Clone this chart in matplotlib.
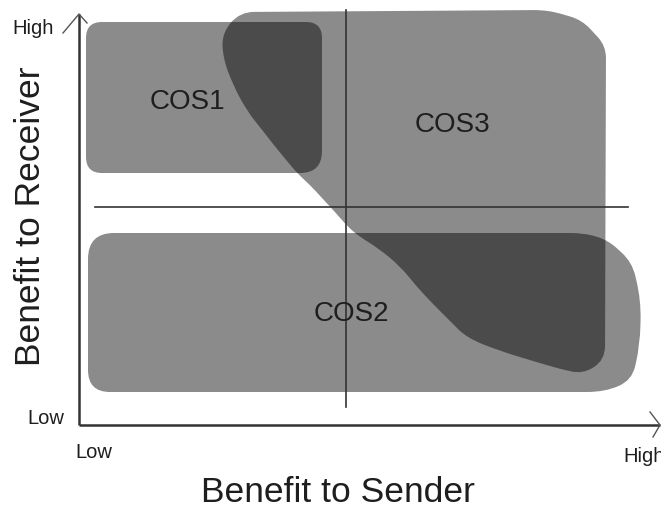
import numpy as np
import matplotlib
matplotlib.use('Agg')
import matplotlib.pyplot as plt
from matplotlib.path import Path
from matplotlib.patches import PathPatch

plt.rcParams['font.family'] = ['Liberation Sans', 'DejaVu Sans']

# ── Geometry (pixel coordinates of the reference, y downwards) ──────────
cos1_outline = [(86, 22), (322, 22), (322, 173), (86, 173)]
cos1_radius = [16, 16, 22, 16]

cos2_outline = [(88, 233), (600, 233), (632, 262), (641, 300), (640, 345),
                (632, 380), (605, 392), (88, 392)]
cos2_radius = [26, 30, 14, 20, 20, 14, 18, 22]

cos3_outline = [(240, 12), (548, 10), (582, 20), (606, 46), (605, 360),
                (583, 374), (560, 369), (533, 361), (500, 351), (467, 338),
                (450, 321), (433, 304), (417, 287), (400, 266), (378, 248),
                (360, 237), (348, 227), (335, 212), (322, 198), (310, 185),
                (297, 173), (287, 161), (273, 144), (263, 131), (247, 111),
                (233, 85), (223, 58), (222, 33)]
cos3_radius = [14, 14, 12, 12, 14, 12, 30, 30, 30, 30, 30, 30, 30, 30, 30,
               30, 30, 30, 30, 30, 30, 30, 30, 30, 30, 30, 30, 14]

labels = ["COS1", "COS2", "COS3"]
label_pos = [(187, 102), (351, 314), (452, 125)]

hline = ([95, 628], [207, 207])
vline = ([346, 346], [10, 407])
y_axis = ([79, 79], [425, 14])
x_axis = ([79, 660], [425, 425])
y_arrow = ([63, 79, 87], [33, 14, 23])
x_arrow = ([650, 660, 653], [412, 425, 437])

LIGHT = "#8b8b8b"
DARK = "#4b4b4b"
INK = "#1e1e1e"


def rounded_path(pts, radii):
    n = len(pts)
    verts, codes = [], []
    for i in range(n):
        v = np.array(pts[i], float)
        a = np.array(pts[i - 1], float)
        b = np.array(pts[(i + 1) % n], float)
        da, db = a - v, b - v
        la, lb = np.hypot(*da), np.hypot(*db)
        r = radii[i]
        p1 = v + da / la * min(r, la / 2)
        p2 = v + db / lb * min(r, lb / 2)
        verts.append(p1)
        codes.append(Path.MOVETO if i == 0 else Path.LINETO)
        verts += [v, p2]
        codes += [Path.CURVE3, Path.CURVE3]
    verts.append(verts[0])
    codes.append(Path.CLOSEPOLY)
    return Path(verts, codes)


fig = plt.figure(figsize=(6.61, 5.11), dpi=100)
ax = fig.add_axes([0, 0, 1, 1])
ax.set_xlim(0, 661)
ax.set_ylim(511, 0)
ax.axis("off")

p1 = rounded_path(cos1_outline, cos1_radius)
p2 = rounded_path(cos2_outline, cos2_radius)
p3 = rounded_path(cos3_outline, cos3_radius)

c1 = PathPatch(p1, fc=LIGHT, ec="none", zorder=1)
c2 = PathPatch(p2, fc=LIGHT, ec="none", zorder=1)
c3 = PathPatch(p3, fc=LIGHT, ec="none", zorder=1)
for p in (c1, c2, c3):
    ax.add_patch(p)

# overlaps: COS3 drawn dark, clipped to COS1 and COS2
for clip in (c1, c2):
    d = PathPatch(p3, fc=DARK, ec="none", zorder=2)
    ax.add_patch(d)
    d.set_clip_path(clip)

ax.plot(*hline, color="#333333", lw=1.2, zorder=3)
ax.plot(*vline, color="#333333", lw=1.2, zorder=3)
ax.plot(*y_axis, color="#333333", lw=1.8, zorder=3, solid_capstyle="butt")
ax.plot(*x_axis, color="#333333", lw=1.8, zorder=3, solid_capstyle="butt")
ax.plot(*y_arrow, color="#555555", lw=1.0, zorder=3)
ax.plot(*x_arrow, color="#555555", lw=1.0, zorder=3)

for lab, (x, y) in zip(labels, label_pos):
    ax.text(x, y, lab, ha="center", va="center", fontsize=20, color=INK, zorder=4)

ax.text(12, 29, "High", ha="left", va="center", fontsize=14.5, color=INK)
ax.text(27, 418, "Low", ha="left", va="center", fontsize=14.5, color=INK)
ax.text(75, 452, "Low", ha="left", va="center", fontsize=14.5, color=INK)
ax.text(623, 456, "High", ha="left", va="center", fontsize=14.5, color=INK)

ax.text(338, 492, "Benefit to Sender", ha="center", va="center", fontsize=25.5, color=INK)
ax.text(31, 216, "Benefit to Receiver", ha="center", va="center", fontsize=25.5,
        color=INK, rotation=90)

fig.savefig("out.png", dpi=100)
